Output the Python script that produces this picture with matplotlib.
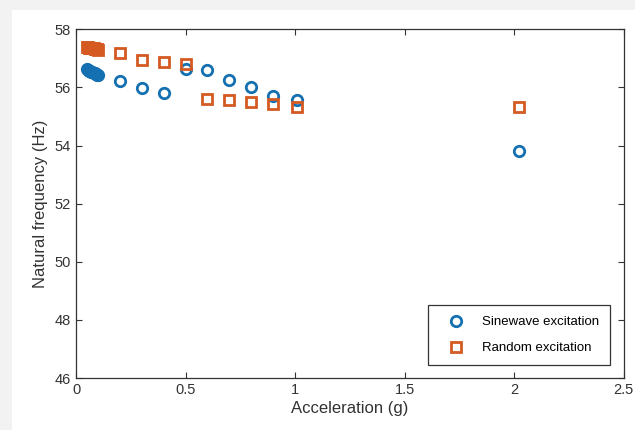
import matplotlib
matplotlib.use("Agg")
import matplotlib.pyplot as plt
from matplotlib.patches import Rectangle

plt.rcParams['font.family'] = ['Liberation Sans', 'DejaVu Sans']

# sinewave excitation (blue circles)
sine_acc = [0.05, 0.055, 0.06, 0.065, 0.07, 0.075, 0.08, 0.085, 0.09, 0.095, 0.1,
            0.2, 0.3, 0.4, 0.5, 0.6, 0.7, 0.8, 0.9, 1.01, 2.02]
sine_freq = [56.62, 56.60, 56.58, 56.56, 56.54, 56.52, 56.50, 56.48, 56.46, 56.44, 56.42,
             56.21, 55.97, 55.81, 56.63, 56.59, 56.24, 56.00, 55.71, 55.55, 53.82]

# random excitation (orange squares)
rand_acc = [0.05, 0.055, 0.06, 0.065, 0.07, 0.075, 0.08, 0.085, 0.09, 0.095, 0.1,
            0.2, 0.3, 0.4, 0.5, 0.6, 0.7, 0.8, 0.9, 1.01, 2.02]
rand_freq = [57.39, 57.38, 57.37, 57.36, 57.36, 57.35, 57.34, 57.33, 57.32, 57.31, 57.30,
             57.17, 56.93, 56.89, 56.79, 55.60, 55.57, 55.49, 55.42, 55.34, 55.34]

xticks = [0, 0.5, 1, 1.5, 2, 2.5]
yticks = [46, 48, 50, 52, 54, 56, 58]

blue = '#1470b0'
orange = '#d45a22'

fig = plt.figure(figsize=(6.35, 4.30), dpi=100)
fig.patch.set_facecolor('#f2f2f2')
fig.patches.append(Rectangle((12/635, 0), 1, 1 - 10/430, transform=fig.transFigure,
                             facecolor='white', edgecolor='none', zorder=-1))
ax = fig.add_axes([0.1197, 0.1209, 0.8625, 0.811])

ax.plot(sine_acc, sine_freq, 'o', markersize=7.5, markerfacecolor='none',
        markeredgecolor=blue, markeredgewidth=2.0, label='Sinewave excitation')
ax.plot(rand_acc, rand_freq, 's', markersize=6.5, markerfacecolor='none',
        markeredgecolor=orange, markeredgewidth=2.0, label='Random excitation')

ax.set_xlim(0, 2.5)
ax.set_ylim(46, 58)
ax.set_xticks(xticks)
ax.set_xticklabels(['0', '0.5', '1', '1.5', '2', '2.5'])
ax.set_yticks(yticks)
ax.tick_params(direction='in', top=True, right=True, length=4, width=0.8,
               labelsize=10.5, colors='#333333', labelcolor='#333333')
for s in ax.spines.values():
    s.set_color('#333333')
    s.set_linewidth(0.9)

ax.set_xlabel('Acceleration (g)', fontsize=12, color='#333333', labelpad=3)
ax.set_ylabel('Natural frequency (Hz)', fontsize=12, color='#333333', labelpad=5)

leg = ax.legend(loc='lower right', bbox_to_anchor=(0.9875, 0.017), fontsize=9.5,
                frameon=True, fancybox=False, edgecolor='black', handletextpad=0.8,
                borderpad=0.85, labelspacing=1.05, handlelength=2.4)
leg.get_frame().set_linewidth(0.9)

fig.savefig('out.png', dpi=100)
